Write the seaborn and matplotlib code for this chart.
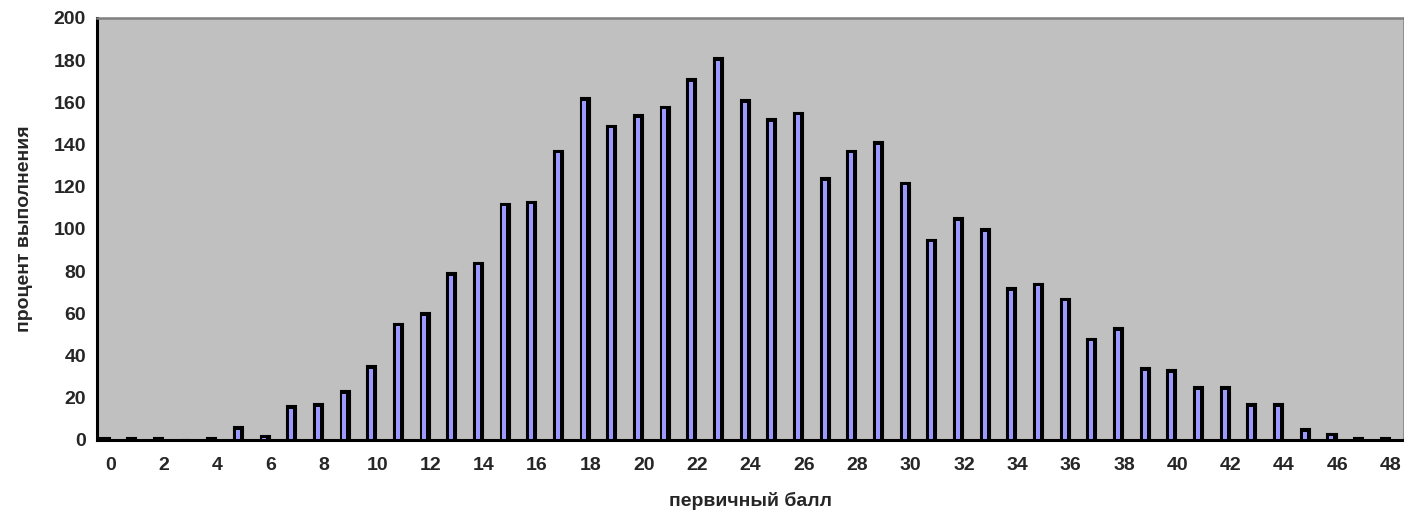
import matplotlib
matplotlib.use("Agg")
import matplotlib.pyplot as plt
import seaborn as sns
import pandas as pd

scores = list(range(0, 49))
counts = [1, 1, 1, 0, 1, 6, 2, 16, 17, 23, 35, 55, 60, 79, 84, 112, 113, 137, 162, 149,
          154, 158, 171, 181, 161, 152, 155, 124, 137, 141, 122, 95, 105, 100, 72, 74, 67,
          48, 53, 34, 33, 25, 25, 17, 17, 5, 3, 1, 1]
x_label = "первичный балл"
y_label = "процент выполнения"

sns.set_theme(style="white")
plt.rcParams['font.family'] = ['Liberation Sans', 'DejaVu Sans']

df = pd.DataFrame({"score": scores, "count": counts})

fig = plt.figure(figsize=(14.04, 5.14), dpi=100)
ax = fig.add_axes([0.0691, 0.144, 0.9309, 0.821])
ax.set_facecolor("#C0C0C0")

# dark body of the 3D column (side + outline)
sns.barplot(data=df, x="score", y="count", order=scores, color="black",
            width=0.34, edgecolor="black", linewidth=1.5, saturation=1, ax=ax)
n_dark = len(ax.patches)
# light front face
sns.barplot(data=df, x="score", y="count", order=scores, color="#9999FF",
            width=0.15, linewidth=0, saturation=1, ax=ax)
for i, p in enumerate(ax.patches):
    if i < n_dark:
        p.set_x(p.get_x() - 0.2)
    else:
        p.set_x(p.get_x() - 0.225)
        h = p.get_height()
        p.set_height(max(h - 1.2, 0))
        if h <= 1.5:
            p.set_visible(False)

ax.set_ylim(0, 200)
ax.set_xlim(-0.5, len(scores) - 0.5)
ax.set_yticks(range(0, 201, 20))
ax.set_yticklabels([str(v) for v in range(0, 201, 20)], fontsize=14, fontweight="bold")
ax.set_xticks(range(0, len(scores), 2))
ax.set_xticklabels([str(s) for s in scores[::2]], fontsize=14, fontweight="bold")
ax.set_xticks([i - 0.5 for i in range(len(scores) + 1)], minor=True)
ax.tick_params(axis="x", which="major", length=0, pad=12)
ax.tick_params(axis="x", which="minor", length=5, width=1.8, color="black", direction="out")
ax.tick_params(axis="y", length=5, width=1.8, color="black", direction="out", pad=3)

ax.set_xlabel(x_label, fontsize=14, fontweight="bold", labelpad=13)
ax.set_ylabel(y_label, fontsize=14, fontweight="bold", labelpad=15)

for side in ["left", "bottom"]:
    ax.spines[side].set_color("black")
    ax.spines[side].set_linewidth(2.2)
for side in ["top", "right"]:
    ax.spines[side].set_color("#808080")
    ax.spines[side].set_linewidth(1.8)

fig.savefig("out.png", dpi=100, facecolor="white")
